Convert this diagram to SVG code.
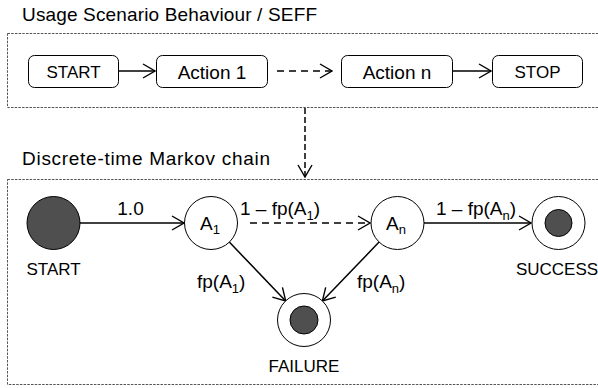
<svg xmlns="http://www.w3.org/2000/svg" width="598" height="388" viewBox="0 0 598 388">
<defs>
<marker id="v" viewBox="0 0 14 16" refX="13" refY="8" markerWidth="14" markerHeight="16" markerUnits="userSpaceOnUse" orient="auto">
<path d="M1,1 L13,8 L1,15" fill="none" stroke="#000" stroke-width="1.4"/>
</marker>
</defs>
<style>
text{font-family:"Liberation Sans",Arial,sans-serif;fill:#000}
.t{font-size:19px}
.l{font-size:19px}
.n{font-size:17px;text-anchor:middle}
.m{font-size:19px;text-anchor:middle}
.sub{font-size:13px}
.frame{fill:none;stroke:#555;stroke-width:1;stroke-dasharray:2.5,1.2}
.box{fill:#fff;stroke:#000;stroke-width:1}
.c{fill:#fff;stroke:#000;stroke-width:1}
.dot{fill:#4f4f4f;stroke:#000;stroke-width:1}
.e{fill:none;stroke:#000;stroke-width:1.5;marker-end:url(#v)}
.d{stroke-dasharray:7,5}
.dv{stroke-dasharray:6,3}
</style>
<rect x="0" y="0" width="598" height="388" fill="#fff"/>
<text class="t" x="22" y="21" textLength="295">Usage Scenario Behaviour / SEFF</text>
<rect class="frame" x="7.5" y="33.5" width="595" height="74"/>
<text class="t" x="22" y="165" textLength="248">Discrete-time Markov chain</text>
<rect class="frame" x="7.5" y="179.5" width="595" height="205"/>

<g id="connectors">
<line class="e" x1="118" y1="71" x2="155" y2="71"/>
<line class="e d" x1="277" y1="71" x2="332" y2="71"/>
<line class="e" x1="452" y1="71" x2="491" y2="71"/>
<line class="e dv" x1="305" y1="108" x2="305" y2="177"/>
<line class="e" x1="80" y1="223" x2="184" y2="223"/>
<line class="e d" x1="250" y1="223" x2="370" y2="223"/>
<line class="e" x1="424" y1="223" x2="531" y2="223"/>
<line class="e" x1="229.3" y1="242.1" x2="285.7" y2="300.9"/>
<line class="e" x1="379.1" y1="242.1" x2="322.4" y2="300.9"/>
<text class="m" x="130.5" y="215">1.0</text>
<text class="l" x="240" y="215">1 – fp(A<tspan class="sub" dy="5">1</tspan><tspan dy="-5">)</tspan></text>
<text class="l" x="436" y="215">1 – fp(A<tspan class="sub" dy="5">n</tspan><tspan dy="-5">)</tspan></text>
<text class="l" x="197" y="288">fp(A<tspan class="sub" dy="5">1</tspan><tspan dy="-5">)</tspan></text>
<text class="l" x="357" y="288">fp(A<tspan class="sub" dy="5">n</tspan><tspan dy="-5">)</tspan></text>
</g>

<g id="u-start"><rect class="box" x="28.5" y="55.5" width="90" height="32" rx="6"/><text class="n" x="73.5" y="78">START</text></g>
<g id="u-action1"><rect class="box" x="156.5" y="55.5" width="111" height="32" rx="6"/><text class="m" x="212" y="78.5">Action 1</text></g>
<g id="u-actionn"><rect class="box" x="341.5" y="55.5" width="111" height="32" rx="6"/><text class="m" x="397" y="78.5">Action n</text></g>
<g id="u-stop"><rect class="box" x="492.5" y="55.5" width="90" height="32" rx="6"/><text class="n" x="537.5" y="78">STOP</text></g>

<g id="m-start"><circle class="dot" cx="53.5" cy="223" r="26.5"/><text class="n" x="53.5" y="275">START</text></g>
<g id="m-a1"><circle class="c" cx="211" cy="223" r="26.5"/><text class="l" x="200" y="230">A<tspan class="sub" dy="4">1</tspan></text></g>
<g id="m-an"><circle class="c" cx="397.5" cy="223" r="26.5"/><text class="l" x="386" y="230">A<tspan class="sub" dy="4">n</tspan></text></g>
<g id="m-success"><circle class="c" cx="558.5" cy="223" r="26.5"/><circle class="dot" cx="558.5" cy="223" r="13.5"/><text class="n" x="557" y="275">SUCCESS</text></g>
<g id="m-failure"><circle class="c" cx="304" cy="320" r="26.5"/><circle class="dot" cx="304" cy="320" r="14"/><text class="n" x="304" y="372">FAILURE</text></g>
</svg>
